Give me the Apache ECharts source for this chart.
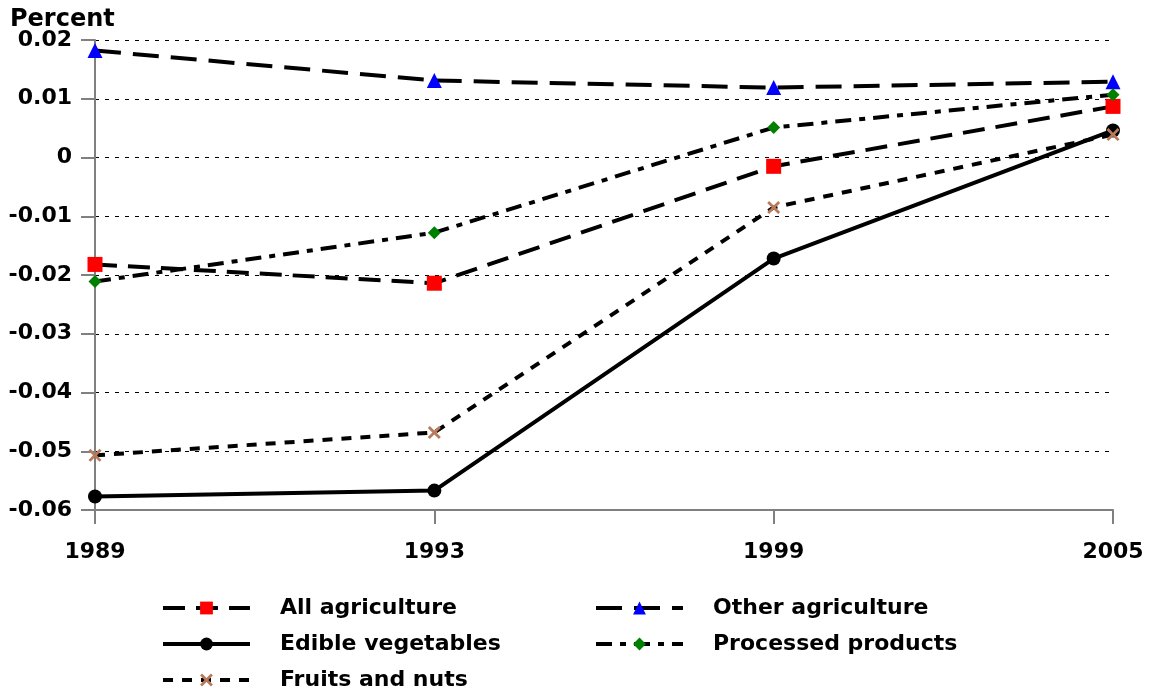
<!DOCTYPE html>
<html>
<head>
<meta charset="utf-8">
<script src="https://cdn.jsdelivr.net/npm/echarts@6/dist/echarts.min.js"></script>
<style>
  html, body { margin: 0; padding: 0; background: #fff; }
  #draw { width: 1149px; height: 693px; }
</style>
</head>
<body>
<div id="draw"></div>
<script>
// years on the x axis
var years = ['1989', '1993', '1999', '2005'];

// series values (percent)
var allAgriculture = [-0.0182, -0.0214, -0.0015, 0.0087];
var otherAgriculture = [0.0182, 0.0131, 0.0119, 0.0129];
var edibleVegetables = [-0.0577, -0.0567, -0.0172, 0.0046];
var processedProducts = [-0.0211, -0.0128, 0.0051, 0.0107];
var fruitsAndNuts = [-0.0507, -0.0468, -0.0085, 0.0039];

var font = 'DejaVu Sans';
var crossPath = 'path://M0,1.5L1.5,0L5,3.5L8.5,0L10,1.5L6.5,5L10,8.5L8.5,10L5,6.5L1.5,10L0,8.5L3.5,5Z';

var myChart = echarts.init(document.getElementById('draw'));

var makeSeries = function(name, data, dash, symbol, size, color) {
	return {
		name : name,
		type : 'line',
		data : data,
		symbol : symbol,
		symbolSize : size,
		showAllSymbol : true,
		itemStyle : { color : color },
		lineStyle : { color : '#000', width : 4, type : dash },
		z : 3
	};
};

var legendText = { fontFamily : font, fontWeight : 'bold', fontSize : 22, lineHeight : 22, color : '#000', padding : [0, 0, 0, 25] };

var option = {
	animation : false,
	title : {
		text : 'Percent',
		left : 5,
		top : 3,
		textStyle : { fontFamily : font, fontWeight : 'bold', fontSize : 24, color : '#000' }
	},
	grid : { left : 95, right : 36, top : 40, bottom : 183 },
	legend : [ {
		orient : 'vertical',
		left : 161,
		top : 597,
		padding : 0,
		itemWidth : 87,
		itemHeight : 16,
		itemGap : 14,
		lineStyle : { width : 4 },
		data : [ 'All agriculture', 'Edible vegetables', 'Fruits and nuts' ],
		textStyle : legendText
	}, {
		orient : 'vertical',
		left : 594,
		top : 597,
		padding : 0,
		itemWidth : 87,
		itemHeight : 16,
		itemGap : 14,
		lineStyle : { width : 4 },
		data : [ 'Other agriculture', 'Processed products' ],
		textStyle : legendText
	} ],
	xAxis : {
		type : 'category',
		data : years,
		boundaryGap : false,
		axisLine : { onZero : false, lineStyle : { color : '#808080', width : 2 } },
		axisTick : { show : true, length : 14, lineStyle : { color : '#808080', width : 2 } },
		axisLabel : { margin : 31, fontFamily : font, fontWeight : 'bold', fontSize : 22, color : '#000' },
		splitLine : { show : false }
	},
	yAxis : {
		type : 'value',
		min : -0.06,
		max : 0.02,
		interval : 0.01,
		axisLine : { show : true, lineStyle : { color : '#808080', width : 2 } },
		axisTick : { show : true, length : 14, lineStyle : { color : '#808080', width : 2 } },
		axisLabel : {
			margin : 23,
			fontFamily : font, fontWeight : 'bold', fontSize : 22, color : '#000',
			formatter : function(v) {
				return String(Math.round(v * 100) / 100);
			}
		},
		splitLine : { show : true, lineStyle : { color : '#000', width : 1, type : [4, 6] } }
	},
	series : [
		makeSeries('All agriculture', allAgriculture, [22, 11], 'rect', 15, '#ff0000'),
		makeSeries('Other agriculture', otherAgriculture, [26, 12], 'triangle', 15, '#0000ff'),
		makeSeries('Edible vegetables', edibleVegetables, 'solid', 'circle', 14, '#000000'),
		makeSeries('Processed products', processedProducts, [16, 8, 6, 8], 'diamond', 13, '#008000'),
		makeSeries('Fruits and nuts', fruitsAndNuts, [10, 9], crossPath, 13, '#b87a5a')
	]
};
myChart.setOption(option);
</script>
</body>
</html>
